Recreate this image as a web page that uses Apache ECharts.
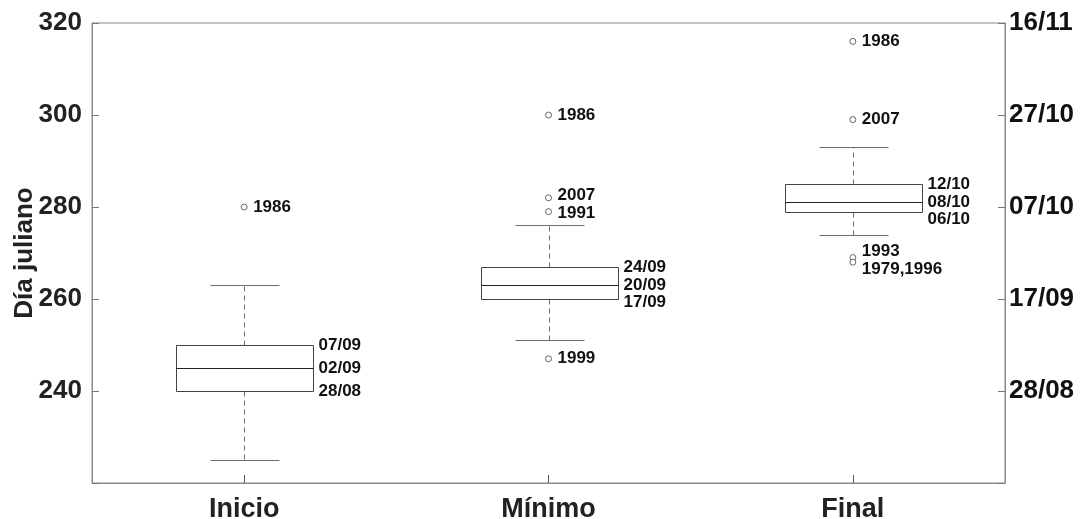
<!DOCTYPE html>
<html><head><meta charset="utf-8">
<script src="https://cdn.jsdelivr.net/npm/echarts@6/dist/echarts.min.js"></script>
<style>html,body{margin:0;padding:0;background:#fff}#c{width:1085px;height:519px}</style>
</head><body><div id="c"></div>
<script>
// ---- data ----
const categories = ['Inicio', 'Mínimo', 'Final'];
const whiskerLow = [225, 251, 274];
const q1 = [240, 260, 279];
const median = [245, 263, 281];
const q3 = [250, 267, 285];
const whiskerHigh = [263, 276, 293];
const q1Labels = ['28/08', '17/09', '06/10'];
const medianLabels = ['02/09', '20/09', '08/10'];
const q3Labels = ['07/09', '24/09', '12/10'];
const outlierCategory = [0, 1, 1, 1, 1, 2, 2, 2, 2];
const outlierValue = [280, 300, 282, 279, 247, 316, 299, 269, 268];
const outlierLabel = ['1986', '1986', '2007', '1991', '1999', '1986', '2007', '1993', '1979,1996'];
const leftTickValues = [240, 260, 280, 300, 320];
const rightTickLabels = ['28/08', '17/09', '07/10', '27/10', '16/11'];

// ---- styles ----
const FONT = '"Liberation Sans", Arial, Helvetica, sans-serif';
const AXIS_GREY = '#8a8a8a';
const LINE_GREY = '#6e6e6e';
const px = v => Math.round(v) + 0.5;

function annText(t, x, y) {
  return { type: 'text', style: { text: t, x: x, y: y, align: 'left', verticalAlign: 'middle',
    fill: '#111', fontSize: 17, fontWeight: 'bold', fontFamily: FONT } };
}

function renderBox(params, api) {
  const i = api.value(0);
  const cx = px(api.coord([i, median[i]])[0]);
  const band = api.size([1, 0])[0];
  const bw = band * 0.45, cw = bw / 2;
  const y = v => px(api.coord([i, v])[1]);
  const yl = y(whiskerLow[i]), y1 = y(q1[i]), ym = y(median[i]), y3 = y(q3[i]), yh = y(whiskerHigh[i]);
  const dash = { stroke: LINE_GREY, lineWidth: 1, lineDash: [5, 4], fill: null };
  const solid = { stroke: LINE_GREY, lineWidth: 1, fill: null };
  const left = px(cx - bw / 2), right = px(cx + bw / 2);
  const ly3 = Math.min(y3, ym - 17), ly1 = Math.max(y1, ym + 17);
  const tx = right + 5;
  return {
    type: 'group',
    children: [
      { type: 'line', shape: { x1: cx, y1: y3, x2: cx, y2: yh }, style: dash },
      { type: 'line', shape: { x1: cx, y1: y1, x2: cx, y2: yl }, style: dash },
      { type: 'line', shape: { x1: px(cx - cw / 2), y1: yh, x2: px(cx + cw / 2), y2: yh }, style: solid },
      { type: 'line', shape: { x1: px(cx - cw / 2), y1: yl, x2: px(cx + cw / 2), y2: yl }, style: solid },
      { type: 'rect', shape: { x: left, y: y3, width: right - left, height: y1 - y3 },
        style: { fill: '#fff', stroke: '#444', lineWidth: 1 } },
      { type: 'line', shape: { x1: left, y1: ym, x2: right, y2: ym }, style: { stroke: '#222', lineWidth: 1 } },
      annText(q3Labels[i], tx, ly3),
      annText(medianLabels[i], tx, ym),
      annText(q1Labels[i], tx, ly1)
    ]
  };
}

function spreadLabels(api, cat, G) {
  const idx = [];
  outlierCategory.forEach((c, k) => { if (c === cat) idx.push(k); });
  const items = idx.map(k => ({ k: k, y: api.coord([cat, outlierValue[k]])[1] }));
  items.sort((a, b) => a.y - b.y);
  for (let it = 0; it < 20; it++) {
    for (let j = 1; j < items.length; j++) {
      const gap = items[j].y - items[j - 1].y;
      if (gap < G) { const d = (G - gap) / 2; items[j].y += d; items[j - 1].y -= d; }
    }
  }
  const out = {};
  items.forEach(o => { out[o.k] = o.y; });
  return out;
}

function renderOutlier(params, api) {
  const cat = api.value(0), v = api.value(1), k = api.value(2);
  const p = api.coord([cat, v]);
  const ly = spreadLabels(api, cat, 18)[k];
  return {
    type: 'group',
    children: [
      { type: 'circle', shape: { cx: p[0], cy: p[1], r: 3 }, style: { fill: '#fff', stroke: '#666', lineWidth: 1 } },
      annText(outlierLabel[k], p[0] + 9, ly)
    ]
  };
}

const chart = echarts.init(document.getElementById('c'), null, { renderer: 'canvas' });
const yCommon = {
  type: 'value', min: 220, max: 320, interval: 20,
  splitLine: { show: false },
  axisLine: { show: true, lineStyle: { color: AXIS_GREY, width: 1 } },
  axisTick: { show: true, inside: true, length: 7, lineStyle: { color: '#777' } }
};
chart.setOption({
  animation: false,
  backgroundColor: '#fff',
  grid: { left: 92, right: 80, top: 23, bottom: 36, containLabel: false, outerBoundsMode: 'none',
    show: true, borderColor: AXIS_GREY, borderWidth: 1, backgroundColor: 'transparent' },
  xAxis: {
    type: 'category', data: categories, boundaryGap: true,
    axisLine: { lineStyle: { color: AXIS_GREY } },
    axisTick: { show: true, inside: true, alignWithLabel: true, length: 8, lineStyle: { color: '#555' } },
    axisLabel: { fontSize: 27, fontWeight: 'bold', color: '#222', fontFamily: FONT, margin: 13 }
  },
  yAxis: [
    Object.assign({}, yCommon, {
      position: 'left',
      name: 'Día juliano', nameLocation: 'middle', nameGap: 54, nameMoveOverlap: false,
      nameTextStyle: { fontSize: 26, fontWeight: 'bold', color: '#222', fontFamily: FONT },
      axisLabel: { fontSize: 26, fontWeight: 'bold', color: '#222', fontFamily: FONT, margin: 10,
        formatter: v => (leftTickValues.indexOf(v) >= 0 ? String(v) : '') }
    }),
    Object.assign({}, yCommon, {
      position: 'right',
      axisLabel: { fontSize: 26, fontWeight: 'bold', color: '#111', fontFamily: FONT, margin: 4,
        formatter: v => { const j = leftTickValues.indexOf(v); return j >= 0 ? rightTickLabels[j] : ''; } }
    })
  ],
  series: [
    { type: 'custom', name: 'box', xAxisIndex: 0, yAxisIndex: 0, clip: false,
      renderItem: renderBox, encode: { x: 0, y: 1 },
      data: categories.map((c, i) => [i, median[i]]) },
    { type: 'custom', name: 'outliers', xAxisIndex: 0, yAxisIndex: 0, clip: false,
      renderItem: renderOutlier, encode: { x: 0, y: 1 },
      data: outlierValue.map((v, k) => [outlierCategory[k], v, k]) }
  ]
});
</script>
</body></html>
